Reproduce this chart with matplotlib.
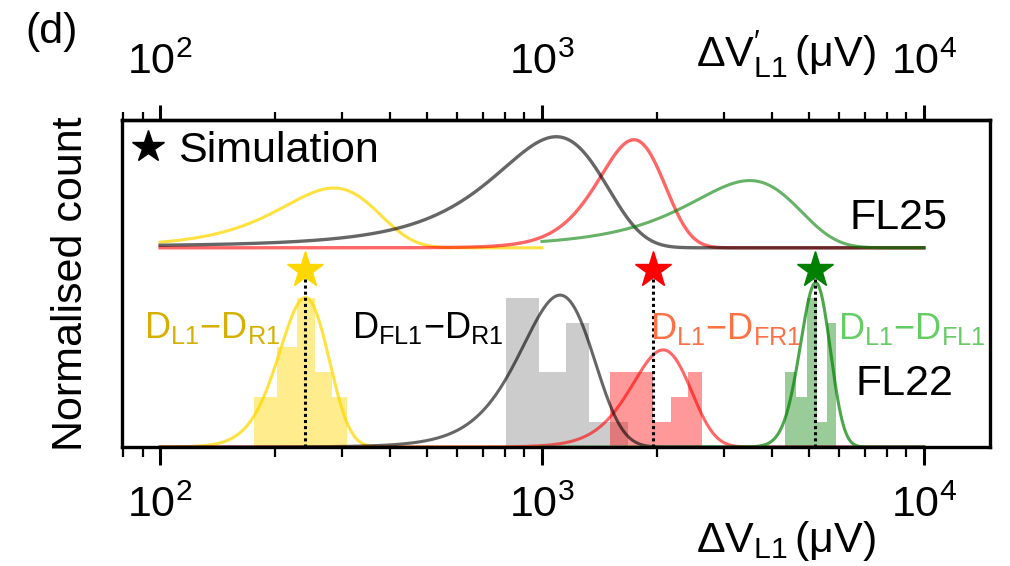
import numpy as np
import matplotlib
matplotlib.use("Agg")
import matplotlib.pyplot as plt
from matplotlib.lines import Line2D

plt.rcParams["font.family"] = ["Liberation Sans", "DejaVu Sans"]
plt.rcParams["mathtext.fontset"] = "custom"
plt.rcParams["mathtext.rm"] = "Liberation Sans"
plt.rcParams["mathtext.it"] = "Liberation Sans:italic"
plt.rcParams["mathtext.bf"] = "Liberation Sans:bold"

# ---- data (dV in uV, heights in counts) ----
# FL22 histograms: bin edges and counts
yel_edges = [176, 202, 229, 255, 282, 308]
yel_counts = [2, 4, 6, 3, 2]
gry_edges = [806, 980, 1154, 1328, 1502, 1676]
gry_counts = [6, 3, 5, 1, 1]
red_edges = [1505, 1730, 1955, 2180, 2405, 2630]
red_counts = [3, 3, 1, 2, 3]
grn_edges = [4325, 4637, 4949, 5261, 5573, 5885]
grn_counts = [3, 2, 6, 1, 5]

# gaussian fits: centre, sigma, height
fl22_yel = (240, 36, 6.0)
fl22_blk = (1115, 245, 6.1)
fl22_red = (2075, 370, 3.9)
fl22_grn = (5210, 470, 6.6)

fl25_yel = (285, 85, 2.4)
fl25_blk = (1090, 360, 4.46)
fl25_red = (1740, 345, 4.34)
fl25_grn = (3500, 1150, 2.7)
fl25_offset = 8.0

# simulated values (stars)
sim_vals = [240, 1950, 5185]
sim_cols = ["gold", "red", "green"]
sim_height = 7.1

decades = [1e2, 1e3, 1e4]

YEL, BLK, RED, GRN = "gold", "black", "red", "green"


def gauss(x, p):
    c, s, h = p
    return h * np.exp(-0.5 * ((x - c) / s) ** 2)


fig = plt.figure(figsize=(10.1, 5.66), dpi=100)
ax = fig.add_axes([0.1208, 0.2102, 0.8594, 0.5777])
ax.set_xscale("log")

# histograms
for edges, counts, col, a in [(yel_edges, yel_counts, YEL, 0.45),
                              (gry_edges, gry_counts, BLK, 0.2),
                              (red_edges, red_counts, RED, 0.4),
                              (grn_edges, grn_counts, GRN, 0.4)]:
    e = np.array(edges, dtype=float)
    ax.bar(e[:-1], counts, width=np.diff(e), align="edge",
           color=col, alpha=a, linewidth=0)

x_lo = np.logspace(2, 3, 600)
x_all = np.logspace(2, 4, 1200)
x_hi = np.logspace(3, 4, 600)

# FL22 fits
ax.plot(x_lo, gauss(x_lo, fl22_yel), color=YEL, alpha=0.75, lw=2.2)
ax.plot(x_all, gauss(x_all, fl22_red), color=RED, alpha=0.6, lw=2.2)
ax.plot(x_all, gauss(x_all, fl22_blk), color=BLK, alpha=0.6, lw=2.2)
ax.plot(x_hi, gauss(x_hi, fl22_grn), color=GRN, alpha=0.7, lw=2.2)

# FL25 fits (offset)
ax.plot(x_lo, fl25_offset + gauss(x_lo, fl25_yel), color=YEL, alpha=0.75, lw=2.2)
ax.plot(x_all, fl25_offset + gauss(x_all, fl25_red), color=RED, alpha=0.6, lw=2.4)
ax.plot(x_all, fl25_offset + gauss(x_all, fl25_blk), color=BLK, alpha=0.6, lw=2.4)
ax.plot(x_hi, fl25_offset + gauss(x_hi, fl25_grn), color=GRN, alpha=0.6, lw=2.2)

# simulation markers
for v, c in zip(sim_vals, sim_cols):
    ax.plot([v, v], [0, sim_height], color="k", lw=2.2, ls=(0, (1, 1)))
    ax.plot(v, sim_height, marker="*", ms=27, color=c, mec=c, ls="")

# labels inside
lab_fs = 26
ax.text(137, 4.78, r"$\mathregular{D_{L1}{-}D_{R1}}$", color="#d4b000",
        fontsize=lab_fs, ha="center", va="center")
ax.text(503, 4.78, r"$\mathregular{D_{FL1}{-}D_{R1}}$", color="black",
        fontsize=lab_fs, ha="center", va="center")
ax.text(3030, 4.75, r"$\mathregular{D_{L1}{-}D_{FR1}}$", color="#ff7045",
        fontsize=lab_fs, ha="center", va="center")
ax.text(9300, 4.75, r"$\mathregular{D_{L1}{-}D_{FL1}}$", color="#66cc66",
        fontsize=lab_fs, ha="center", va="center")
ax.text(8870, 2.53, "FL22", fontsize=31, ha="center", va="center")
ax.text(8600, 9.2, "FL25", fontsize=31, ha="center", va="center")

ax.legend(handles=[Line2D([], [], marker="*", color="k", ls="", ms=24)],
          labels=["Simulation"], loc="upper left", bbox_to_anchor=(0.0, 1.0),
          frameon=False, fontsize=31, borderaxespad=0.0, borderpad=0.25,
          handlelength=0.7, handletextpad=0.35)

ax.set_xlim(79.5, 14900)
ax.set_ylim(0, 13.13)
ax.set_yticks([])
ax.set_xticks(decades)

for sp in ax.spines.values():
    sp.set_linewidth(2.4)

ax.tick_params(axis="x", which="major", direction="out", length=13, width=2.2,
               labelsize=31, pad=15)
ax.tick_params(axis="x", which="minor", direction="out", length=7, width=1.6)

ax.set_xlabel(r"$\mathregular{ΔV_{L1}\,(μV)}$", fontsize=31)
ax.xaxis.set_label_coords(0.765, -0.22)
ax.set_ylabel("Normalised count", fontsize=31)
ax.yaxis.set_label_coords(-0.036, 0.5)

secax = ax.secondary_xaxis("top")
secax.set_xticks(decades)
secax.spines["top"].set_linewidth(2.4)
secax.tick_params(axis="x", which="major", direction="out", length=11, width=2.2,
                  labelsize=31, pad=16)
secax.tick_params(axis="x", which="minor", direction="out", length=6, width=1.6)
secax.set_xlabel(r"$\mathregular{ΔV^{\prime}_{L1}\,(μV)}$", fontsize=31)
secax.xaxis.set_label_coords(0.765, 1.165, transform=ax.transAxes)

fig.text(52 / 1010, 1 - 32 / 566, "(d)", fontsize=31, ha="center", va="center")

fig.savefig("out.png", dpi=100)
